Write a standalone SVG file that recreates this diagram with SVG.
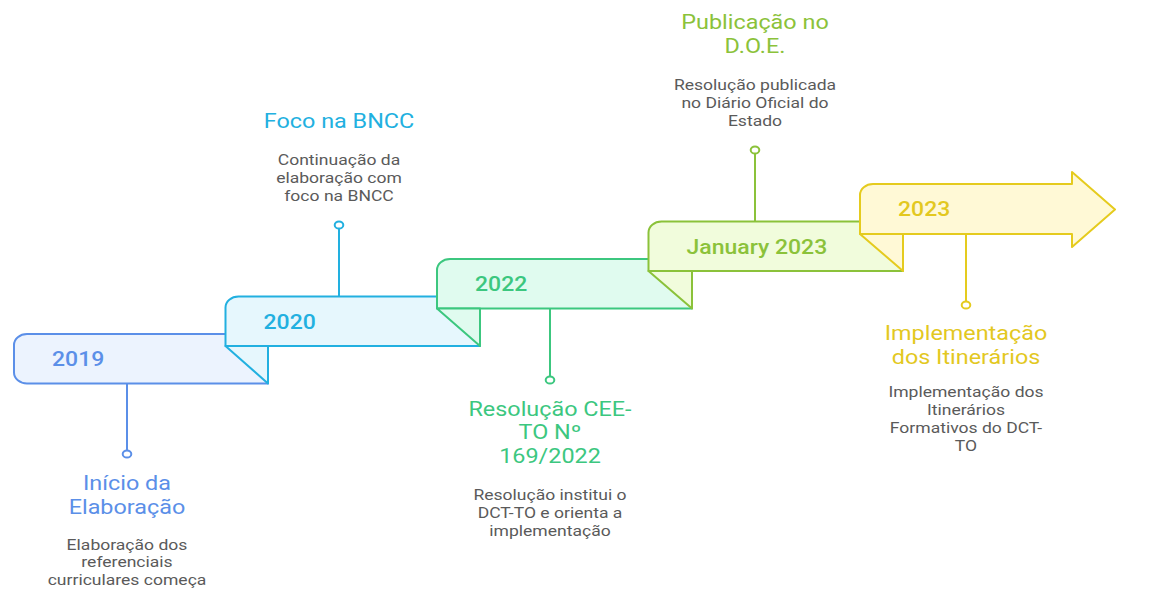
<svg xmlns="http://www.w3.org/2000/svg" width="1155" height="590" viewBox="0 0 1155 590">
  <style>
    .box { stroke-width: 2; stroke-linejoin: round; }
    .yr { font-family: Roboto, "Liberation Sans", sans-serif; font-size: 20px; font-weight: 500; }
    .ttl { font-family: Roboto, "Liberation Sans", sans-serif; font-size: 20px; text-anchor: middle; }
    .dsc { font-family: Roboto, "Liberation Sans", sans-serif; font-size: 15px; fill: #5a5a5a; text-anchor: middle; }
    .lead { stroke-width: 2; fill: none; }
    .dot { stroke-width: 2; fill: #ffffff; }
    .blue { stroke: #5b8fe8; } .blueF { fill: #5b8fe8; }
    .cyan { stroke: #22b0e0; } .cyanF { fill: #22b0e0; }
    .green { stroke: #3cc77f; } .greenF { fill: #3cc77f; }
    .lime { stroke: #8bc23a; } .limeF { fill: #8bc23a; }
    .gold { stroke: #e5cb1e; } .goldF { fill: #e3c81f; }
  </style>

  <!-- leader lines from each step to its label -->
  <g id="connectors">
    <line class="lead blue" x1="127" y1="383.5" x2="127" y2="450.4"/>
    <ellipse class="dot blue" cx="127" cy="454" rx="4.3" ry="3.6"/>
    <line class="lead cyan" x1="339" y1="296.5" x2="339" y2="228.6"/>
    <ellipse class="dot cyan" cx="339" cy="225" rx="4.3" ry="3.6"/>
    <line class="lead green" x1="550" y1="309" x2="550" y2="376.4"/>
    <ellipse class="dot green" cx="550" cy="380" rx="4.3" ry="3.6"/>
    <line class="lead lime" x1="755" y1="221.5" x2="755" y2="153.6"/>
    <ellipse class="dot lime" cx="755" cy="150" rx="4.3" ry="3.6"/>
    <line class="lead gold" x1="966" y1="234" x2="966" y2="301.4"/>
    <ellipse class="dot gold" cx="966" cy="305" rx="4.3" ry="3.6"/>
  </g>

  <!-- step 1 -->
  <g id="step-2019">
    <path class="box blue" fill="#ecf3fe" d="M27,334 H268 V383.5 H27 A13 11 0 0 1 14,372.5 V345 A13 11 0 0 1 27,334 Z"/>
    <text class="yr blueF" transform="translate(52 366) scale(1.15 1)">2019</text>
  </g>

  <!-- step 2 -->
  <g id="step-2020">
    <path class="box cyan" fill="#e6f7fd" d="M238.5,296.5 H480 V346 H225.5 V307.5 A13 11 0 0 1 238.5,296.5 Z"/>
    <path class="box cyan" fill="#e6f7fd" d="M225.5,346 L268,383.5 V346 Z"/>
    <text class="yr cyanF" transform="translate(263.5 328.5) scale(1.15 1)">2020</text>
  </g>

  <!-- step 3 -->
  <g id="step-2022">
    <path class="box green" fill="#e0fbef" d="M450,259 H692 V308.5 H437 V270 A13 11 0 0 1 450,259 Z"/>
    <path class="box green" fill="#e0fbef" d="M437,308.5 L480,346 V308.5 Z"/>
    <text class="yr greenF" transform="translate(475 291) scale(1.15 1)">2022</text>
  </g>

  <!-- step 4 -->
  <g id="step-jan-2023">
    <path class="box lime" fill="#f1fcdc" d="M661.5,221.5 H903 V271 H648.5 V232.5 A13 11 0 0 1 661.5,221.5 Z"/>
    <path class="box lime" fill="#f1fcdc" d="M648.5,271 L692,308.5 V271 Z"/>
    <text class="yr limeF" transform="translate(686.5 253.5) scale(1.15 1)">January 2023</text>
  </g>

  <!-- step 5: arrow head -->
  <g id="step-2023">
    <path class="box gold" fill="#fff9d6" d="M873,184 H1072 V172 L1115,209.5 L1072,247 V234 H860 V195 A13 11 0 0 1 873,184 Z"/>
    <path class="box gold" fill="#fff9d6" d="M860,234 L903,271 V234 Z"/>
    <text class="yr goldF" transform="translate(898 216) scale(1.15 1)">2023</text>
  </g>

  <!-- labels -->
  <g id="label-2019">
    <text class="ttl blueF" transform="translate(127 490) scale(1.17 1)"><tspan x="0" y="0">Início da</tspan><tspan x="0" y="24">Elaboração</tspan></text>
    <text class="dsc" transform="translate(127 550) scale(1.17 1)"><tspan x="0" y="0">Elaboração dos</tspan><tspan x="0" y="17.5">referenciais</tspan><tspan x="0" y="35">curriculares começa</tspan></text>
  </g>
  <g id="label-2020">
    <text class="ttl cyanF" transform="translate(339 128) scale(1.17 1)">Foco na BNCC</text>
    <text class="dsc" transform="translate(339 165) scale(1.17 1)"><tspan x="0" y="0">Continuação da</tspan><tspan x="0" y="18">elaboração com</tspan><tspan x="0" y="36">foco na BNCC</tspan></text>
  </g>
  <g id="label-2022">
    <text class="ttl greenF" transform="translate(550 415.5) scale(1.17 1)"><tspan x="0" y="0">Resolução CEE-</tspan><tspan x="0" y="24">TO Nº</tspan><tspan x="0" y="48">169/2022</tspan></text>
    <text class="dsc" transform="translate(550 500) scale(1.17 1)"><tspan x="0" y="0">Resolução institui o</tspan><tspan x="0" y="18">DCT-TO e orienta a</tspan><tspan x="0" y="36">implementação</tspan></text>
  </g>
  <g id="label-jan-2023">
    <text class="ttl limeF" transform="translate(755 29) scale(1.17 1)"><tspan x="0" y="0">Publicação no</tspan><tspan x="0" y="24">D.O.E.</tspan></text>
    <text class="dsc" transform="translate(755 90) scale(1.17 1)"><tspan x="0" y="0">Resolução publicada</tspan><tspan x="0" y="18">no Diário Oficial do</tspan><tspan x="0" y="36">Estado</tspan></text>
  </g>
  <g id="label-2023">
    <text class="ttl goldF" transform="translate(966 340) scale(1.17 1)"><tspan x="0" y="0">Implementação</tspan><tspan x="0" y="24">dos Itinerários</tspan></text>
    <text class="dsc" transform="translate(966 397) scale(1.17 1)"><tspan x="0" y="0">Implementação dos</tspan><tspan x="0" y="18">Itinerários</tspan><tspan x="0" y="36">Formativos do DCT-</tspan><tspan x="0" y="54">TO</tspan></text>
  </g>
</svg>
